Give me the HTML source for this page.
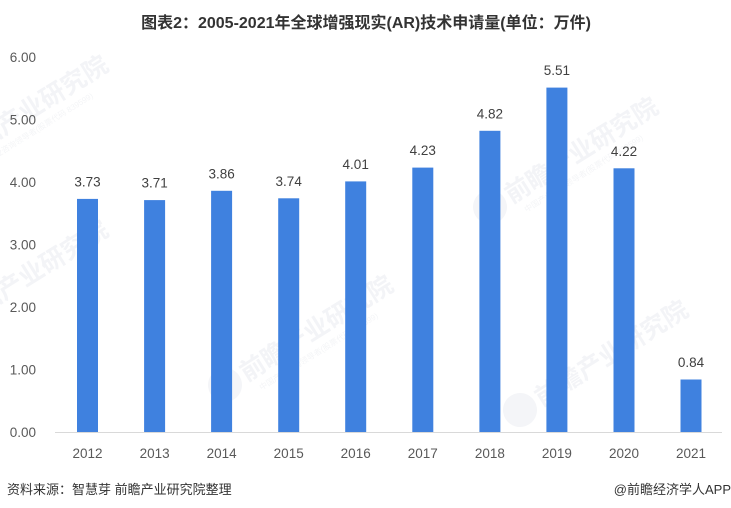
<!DOCTYPE html>
<html><head><meta charset="utf-8">
<style>
html,body{margin:0;padding:0;background:#fff;}
svg{display:block;}
text{font-family:"Liberation Sans","Noto Sans CJK SC",sans-serif;}
</style></head>
<body>
<svg width="731" height="508" viewBox="0 0 731 508" xmlns="http://www.w3.org/2000/svg">
<rect width="731" height="508" fill="#fff"/>
<!-- watermarks -->
<g fill="#f3f4f7" font-weight="bold" font-size="25">
  <g transform="translate(490,207) rotate(-32)">
    <circle cx="0" cy="0" r="17" fill="#f4f5f8"/>
    <text x="20" y="9">前瞻产业研究院</text>
    <text x="28" y="24" font-size="8" font-weight="normal" fill="#f4f5f7">中国产业咨询领导者(股票代码 839599)</text>
  </g>
  <g transform="translate(225,385) rotate(-32)">
    <circle cx="0" cy="0" r="17" fill="#f4f5f8"/>
    <text x="20" y="9">前瞻产业研究院</text>
    <text x="28" y="24" font-size="8" font-weight="normal" fill="#f4f5f7">中国产业咨询领导者(股票代码 839599)</text>
  </g>
  <g transform="translate(520,410) rotate(-32)">
    <circle cx="0" cy="0" r="17" fill="#f4f5f8"/>
    <text x="20" y="9">前瞻产业研究院</text>
  </g>
  <g transform="translate(-60,165) rotate(-32)">
    <text x="20" y="9">前瞻产业研究院</text>
    <text x="28" y="24" font-size="8" font-weight="normal" fill="#f4f5f7">中国产业咨询领导者(股票代码 839599)</text>
  </g>
  <g transform="translate(-60,330) rotate(-32)">
    <text x="20" y="9">前瞻产业研究院</text>
  </g>
</g>
<!-- title -->
<text x="366" y="28" text-anchor="middle" font-size="16" font-weight="bold" fill="#333">图表2：2005-2021年全球增强现实(AR)技术申请量(单位：万件)</text>
<!-- y axis labels -->
<g font-size="13.5" fill="#595959" text-anchor="end">
  <text x="36" y="62">6.00</text>
  <text x="36" y="124.5">5.00</text>
  <text x="36" y="187">4.00</text>
  <text x="36" y="249.5">3.00</text>
  <text x="36" y="312">2.00</text>
  <text x="36" y="374.5">1.00</text>
  <text x="36" y="437">0.00</text>
</g>
<!-- bars -->
<g fill="#3f81df">
  <rect x="77" y="198.9" width="21" height="233.1"/>
  <rect x="144.1" y="200.1" width="21" height="231.9"/>
  <rect x="211.1" y="190.8" width="21" height="241.2"/>
  <rect x="278.2" y="198.3" width="21" height="233.7"/>
  <rect x="345.2" y="181.4" width="21" height="250.6"/>
  <rect x="412.3" y="167.6" width="21" height="264.4"/>
  <rect x="479.4" y="130.8" width="21" height="301.2"/>
  <rect x="546.4" y="87.6" width="21" height="344.4"/>
  <rect x="613.5" y="168.3" width="21" height="263.7"/>
  <rect x="680.5" y="379.5" width="21" height="52.5"/>
</g>
<!-- axis line -->
<line x1="55" y1="432.5" x2="722" y2="432.5" stroke="#d9d9d9" stroke-width="1"/>
<!-- data labels -->
<g font-size="13.5" fill="#404040" text-anchor="middle">
  <text x="87.5" y="186.4">3.73</text>
  <text x="154.6" y="187.6">3.71</text>
  <text x="221.6" y="178.3">3.86</text>
  <text x="288.7" y="185.8">3.74</text>
  <text x="355.7" y="168.9">4.01</text>
  <text x="422.8" y="155.1">4.23</text>
  <text x="489.9" y="118.3">4.82</text>
  <text x="556.9" y="75.1">5.51</text>
  <text x="624" y="155.8">4.22</text>
  <text x="691" y="367">0.84</text>
</g>
<!-- x labels -->
<g font-size="13.5" fill="#595959" text-anchor="middle">
  <text x="87.5" y="458">2012</text>
  <text x="154.6" y="458">2013</text>
  <text x="221.6" y="458">2014</text>
  <text x="288.7" y="458">2015</text>
  <text x="355.7" y="458">2016</text>
  <text x="422.8" y="458">2017</text>
  <text x="489.9" y="458">2018</text>
  <text x="556.9" y="458">2019</text>
  <text x="624" y="458">2020</text>
  <text x="691" y="458">2021</text>
</g>
<!-- footer -->
<text x="7" y="494" font-size="13" fill="#333">资料来源：智慧芽 前瞻产业研究院整理</text>
<text x="731" y="494" font-size="13" fill="#333" text-anchor="end">@前瞻经济学人APP</text>
</svg>
</body></html>
